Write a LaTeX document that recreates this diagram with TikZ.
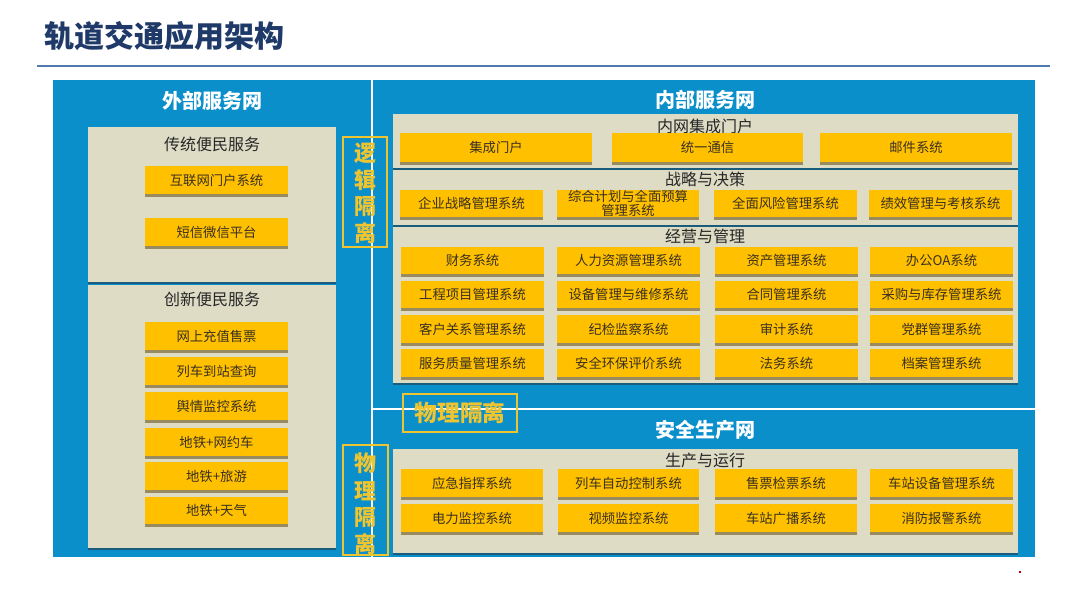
\documentclass[tikz,border=0pt]{standalone}
\usepackage{fontspec}
\setmainfont{Noto Sans CJK SC}
\definecolor{titlenavy}{HTML}{1F3A68}
\definecolor{rulecol}{HTML}{4F7CAC}
\definecolor{panelblue}{HTML}{0B8FCB}
\definecolor{beige}{HTML}{DEDCC5}
\definecolor{orangebtn}{HTML}{FFC000}
\definecolor{btnshade}{HTML}{9A8A60}
\definecolor{secshade}{HTML}{1A5C7C}
\definecolor{isogold}{HTML}{EEC430}
\definecolor{btntextcol}{HTML}{3A3020}
\tikzset{
  btntext/.style={inner sep=0pt, text=btntextcol, font=\fontsize{10}{11}\selectfont, align=center},
  sectitle/.style={inner sep=0pt, text=black!85, font=\fontsize{12}{13}\selectfont},
  paneltitle/.style={inner sep=0pt, text=white, font=\bfseries\fontsize{15}{16}\selectfont},
  isotext/.style={inner sep=0pt, text=isogold, font=\bfseries\fontsize{16.5}{17}\selectfont},
  isobox/.style={draw=isogold, line width=2.2pt},
  seperline/.style={draw=white, line width=1.6pt},
}
\newcommand\obtn[6]{%
  \fill[btnshade] (#2,#3+2.5) rectangle (#4,#5+2.5);
  \fill[orangebtn] (#2,#3) rectangle (#4,#5);
  \node[btntext] (#1) at ({(#2+#4)/2},{(#3+#5)/2}) {#6};
}
\newcommand\secbox[6]{%
  \fill[secshade] (#2,#3+2) rectangle (#4,#5+2);
  \fill[beige] (#2,#3) rectangle (#4,#5);
  \node[sectitle] (#1) at ({(#2+#4)/2+#6},#3+12) {};
}
\begin{document}
\begin{tikzpicture}[x=0.75pt,y=-0.75pt]
\useasboundingbox[fill=white] (0,0) rectangle (1080,608);
% title
\node[anchor=west, inner sep=0pt, text=titlenavy, font=\bfseries\fontsize{22.5}{24}\selectfont] (title) at (44,36) {轨道交通应用架构};
\draw[rulecol, line width=2.2pt] (37,66) -- (1050,66);
% blue area
\fill[panelblue] (53,80) rectangle (1035,557);
\draw[seperline] (372,80) -- (372,560);
\draw[seperline] (372,409) -- (1035,409);
% panel titles
\node[paneltitle] (extnet) at (212,101) {外部服务网};
\node[paneltitle] (intnet) at (705,100) {内部服务网};
\node[paneltitle] (safenet) at (705,430) {安全生产网};
% left boxes
\fill[secshade] (88,129) rectangle (336,284);
\fill[beige] (88,127) rectangle (336,282);
\node[sectitle] (tradt) at (212,144) {传统便民服务};
\fill[secshade] (88,287) rectangle (336,550);
\fill[beige] (88,285) rectangle (336,548);
\node[sectitle] (innov) at (212,299) {创新便民服务};
\obtn{inet}{145}{166}{288}{194}{互联网门户系统}
\obtn{sms}{145}{218}{288}{246}{短信微信平台}
\obtn{recharge}{145}{322}{288}{350}{网上充值售票}
\obtn{arrive}{145}{357}{288}{385}{列车到站查询}
\obtn{opinion}{145}{392}{288}{420}{舆情监控系统}
\obtn{taxi}{145}{428}{288}{456}{地铁+网约车}
\obtn{tour}{145}{462}{288}{490}{地铁+旅游}
\obtn{weather}{145}{497}{288}{524}{地铁+天气}
% right sections
\fill[secshade] (393,116) rectangle (1018,170);
\fill[beige] (393,114) rectangle (1018,168);
\node[sectitle] (portalsec) at (705,126) {内网集成门户};
\fill[secshade] (393,172) rectangle (1018,227);
\fill[beige] (393,170) rectangle (1018,225);
\node[sectitle] (stratsec) at (705,179) {战略与决策};
\fill[secshade] (393,229) rectangle (1018,385);
\fill[beige] (393,227) rectangle (1018,383);
\node[sectitle] (mgmtsec) at (705,236) {经营与管理};
\fill[secshade] (393,451) rectangle (1018,555);
\fill[beige] (393,449) rectangle (1018,553);
\node[sectitle] (prodsec) at (705,460) {生产与运行};
% portal
\obtn{portal}{400}{133}{592}{162}{集成门户}
\obtn{comm}{612}{133}{803}{162}{统一通信}
\obtn{mail}{820}{133}{1012}{162}{邮件系统}
% strategy
\obtn{s1}{400}{190}{543}{217}{企业战略管理系统}
\obtn{s2}{557}{190}{699}{217}{}
\node[btntext, font=\fontsize{10}{10.5}\selectfont] (s2t) at (628,203) {综合计划与全面预算\\管理系统};
\obtn{s3}{714}{190}{857}{217}{全面风险管理系统}
\obtn{s4}{869}{190}{1012}{217}{绩效管理与考核系统}
% management
\obtn{m11}{401}{247}{544}{274}{财务系统}
\obtn{m12}{557}{247}{700}{274}{人力资源管理系统}
\obtn{m13}{715}{247}{858}{274}{资产管理系统}
\obtn{m14}{870}{247}{1013}{274}{办公OA系统}
\obtn{m21}{401}{281}{544}{308}{工程项目管理系统}
\obtn{m22}{557}{281}{700}{308}{设备管理与维修系统}
\obtn{m23}{715}{281}{858}{308}{合同管理系统}
\obtn{m24}{870}{281}{1013}{308}{采购与库存管理系统}
\obtn{m31}{401}{315}{544}{343}{客户关系管理系统}
\obtn{m32}{557}{315}{700}{343}{纪检监察系统}
\obtn{m33}{715}{315}{858}{343}{审计系统}
\obtn{m34}{870}{315}{1013}{343}{党群管理系统}
\obtn{m41}{401}{349}{544}{377}{服务质量管理系统}
\obtn{m42}{557}{349}{700}{377}{安全环保评价系统}
\obtn{m43}{715}{349}{858}{377}{法务系统}
\obtn{m44}{870}{349}{1013}{377}{档案管理系统}
% production
\obtn{p11}{401}{469}{543}{497}{应急指挥系统}
\obtn{p12}{558}{469}{699}{497}{列车自动控制系统}
\obtn{p13}{715}{469}{857}{497}{售票检票系统}
\obtn{p14}{870}{469}{1013}{497}{车站设备管理系统}
\obtn{p21}{401}{504}{543}{532}{电力监控系统}
\obtn{p22}{558}{504}{699}{532}{视频监控系统}
\obtn{p23}{715}{504}{857}{532}{车站广播系统}
\obtn{p24}{870}{504}{1013}{532}{消防报警系统}
% isolation boxes
\draw[isobox] (343,137) rectangle (387,247);
\node[isotext] (lg1) at (365,153) {逻};
\node[isotext] (lg2) at (365,180) {辑};
\node[isotext] (lg3) at (365,207) {隔};
\node[isotext] (lg4) at (365,233) {离};
\draw[isobox] (343,445) rectangle (388,555);
\node[isotext] (ph1) at (365,463) {物};
\node[isotext] (ph2) at (365,491) {理};
\node[isotext] (ph3) at (365,518) {隔};
\node[isotext] (ph4) at (365,544) {离};
\draw[isobox] (403,394) rectangle (517,432);
\node[isotext, font=\bfseries\fontsize{17}{18}\selectfont] (phh) at (460,413) {物理隔离};
% red dot
\fill[red!70!black] (1018.5,570.5) rectangle (1021,573);
\end{tikzpicture}
\end{document}
